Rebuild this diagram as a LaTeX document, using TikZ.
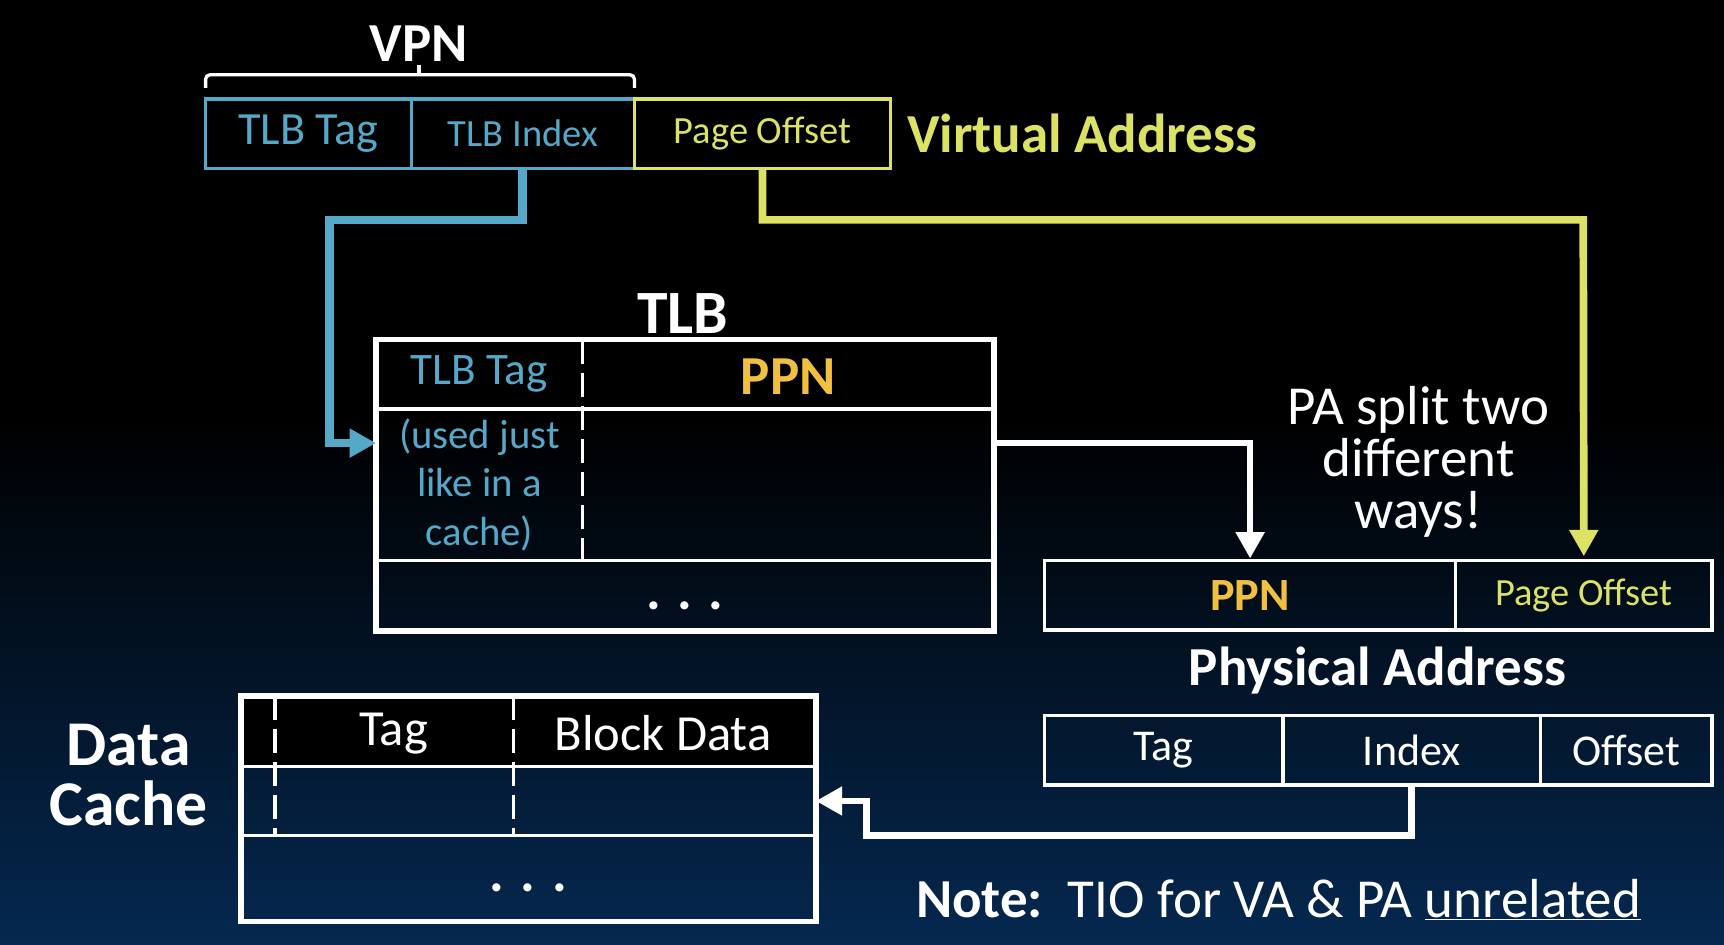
\documentclass[tikz,border=0pt]{standalone}
\usepackage{fontspec}
\setmainfont{Carlito}
\usetikzlibrary{arrows.meta, positioning}
\definecolor{tlbblue}{HTML}{55A8C8}
\definecolor{offyel}{HTML}{DCE263}
\definecolor{ppngold}{HTML}{F2C040}
\definecolor{bgnavy}{HTML}{052850}
\tikzset{
  field/.style={draw=white, line width=3pt, outer sep=0pt, inner sep=0pt,
    minimum height=63, text=white, font=\fontsize{40}{48}\selectfont},
  vafield/.style={field, draw=tlbblue, text=tlbblue},
  offfield/.style={field, draw=offyel, text=offyel, font=\fontsize{35}{42}\selectfont},
  tablerow/.style={draw=white, line width=3pt, outer sep=0pt, inner sep=0pt, minimum width=#1},
  title/.style={inner sep=0pt, text=white, font=\fontsize{50}{60}\selectfont\bfseries},
  plain/.style={inner sep=0pt, text=white, align=center, font=\fontsize{50}{47}\selectfont},
  splitdash/.style={draw=white, line width=3pt, dash pattern=on 22pt off 8pt},
  frame/.style={draw=white, line width=5pt},
  link/.style={line width=7pt, -{Triangle[length=24pt, width=25pt]}}
}

\begin{document}
\begin{tikzpicture}[x=1pt, y=-1pt]
\useasboundingbox (0,0) rectangle (1568,859);
\fill[black] (0,0) rectangle (1568,859);
\shade[top color=black, bottom color=bgnavy] (0,380) rectangle (1568,859);

% virtual address
\node[vafield, minimum width=187, font=\fontsize{42}{50}\selectfont, anchor=west] (vtag) at (187,121.5) {TLB Tag};
\node[vafield, minimum width=203, font=\fontsize{35}{42}\selectfont, right=0pt of vtag] (vidx) {TLB Index};
\node[offfield, minimum width=233, right=0pt of vidx] (voff) {Page Offset};
\node[title, text=offyel, right=15pt of voff] (vaddr) {Virtual Address};
\draw[white, line width=3pt, rounded corners=4pt]
  ([yshift=10pt]vtag.north west) |- (381,68) -| ([yshift=10pt]vidx.north east);
\draw[white, line width=3pt] (381,68) -- (381,59);
\node[title] (vpn) at (381,40) {VPN};

% TLB
\node[title, font=\fontsize{56}{60}\selectfont\bfseries] (tlbtitle) at (621,285) {TLB};
\node[tablerow=562, minimum height=63, anchor=north west] (tlbhead) at (342,309) {};
\node[tablerow=562, minimum height=138, below=0pt of tlbhead] (tlbrow) {};
\node[tablerow=562, minimum height=64, below=0pt of tlbrow, text=white,
  font=\fontsize{50}{60}\selectfont\bfseries] (tlbmore) {\strut. . .};
\draw[frame] (tlbhead.north west) rectangle (tlbmore.south east);
\draw[splitdash] ([xshift=188pt]tlbhead.north west) -- ([xshift=188pt]tlbrow.south west);
\node[vafield, draw=none, font=\fontsize{41}{48}\selectfont] (ttag) at (436,340) {TLB Tag};
\node[title, text=ppngold] (tppn) at (717,343) {PPN};
\node[plain, text=tlbblue, font=\fontsize{37}{44}\selectfont] (tnote) at (436,441) {(used just\\like in a\\cache)};

% physical address
\node[field, minimum width=374, anchor=north west, text=ppngold,
  font=\fontsize{42}{50}\selectfont\bfseries] (pappn) at (950,510) {PPN};
\node[offfield, draw=white, minimum width=233, right=0pt of pappn] (paoff) {Page Offset};
\node[title] (paddr) at (1253,610) {Physical Address};
\node[plain] (split) at (1290,420) {PA split two\\different\\ways!};
\node[field, minimum width=217, anchor=north west] (ptag) at (950,651) {Tag};
\node[field, minimum width=234, right=0pt of ptag] (pidx) {Index};
\node[field, minimum width=156, right=0pt of pidx] (pofs) {Offset};

% data cache
\node[tablerow=523, minimum height=64, anchor=north west, fill=black] (chead) at (219,633) {};
\node[tablerow=523, minimum height=63, below=0pt of chead] (crow) {};
\node[tablerow=523, minimum height=78, below=0pt of crow, text=white,
  font=\fontsize{50}{60}\selectfont\bfseries] (cmore) {\strut. . .};
\draw[frame] (chead.north west) rectangle (cmore.south east);
\draw[splitdash] ([xshift=31pt]chead.north west) -- ([xshift=31pt]crow.south west);
\draw[splitdash] ([xshift=248pt]chead.north west) -- ([xshift=248pt]crow.south west);
\node[plain, font=\fontsize{46}{52}\selectfont] (ctag) at (358,667) {Tag};
\node[plain, font=\fontsize{46}{52}\selectfont] (cdata) at (603,667) {Block Data};
\node[title, align=center, font=\fontsize{58}{55}\selectfont\bfseries] (dcache) at (117,705) {Data\\Cache};

\node[plain, anchor=west] (note) at (833,818) {\textbf{Note:}\ \ TIO for VA \& PA \underline{unrelated}};

% connectors
\coordinate (bluebend) at (300,200);
\coordinate (yelbend) at (1440,200);
\coordinate (cachebend) at (788,760);
\draw[link, draw=tlbblue, line width=8pt] (vidx.south) |- (bluebend) |- ([yshift=38pt]tlbrow.west);
\draw[link, draw=offyel, shorten >=4pt] (voff.south) |- (yelbend) -- (paoff.north);
\draw[link, draw=white, line width=6pt, shorten >=2pt] ([yshift=38pt]tlbrow.east) -| (pappn.north);
\draw[link, draw=white, line width=6pt] (pidx.south) |- (cachebend) |- (crow.east);
\end{tikzpicture}
\end{document}
